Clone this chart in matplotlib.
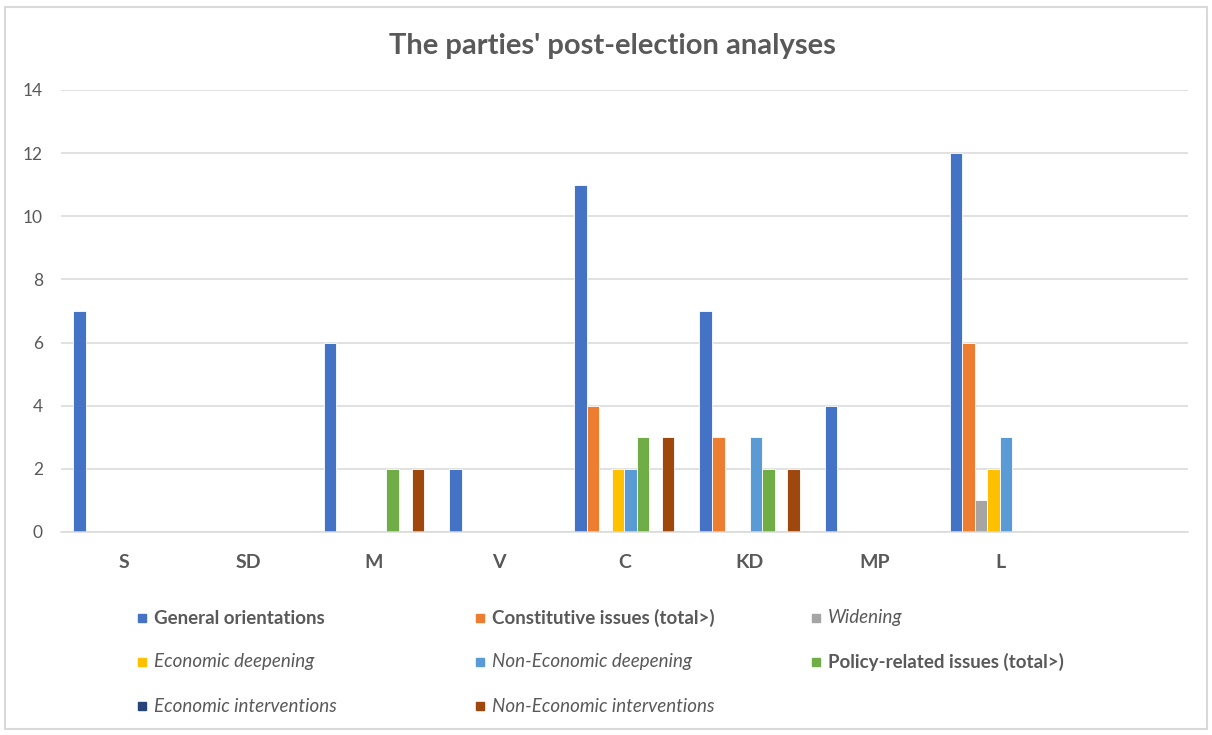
import numpy as np
import matplotlib.pyplot as plt
from matplotlib.patches import Rectangle

plt.rcParams['font.family'] = ['Lato', 'DejaVu Sans']

parties = ["S", "SD", "M", "V", "C", "KD", "MP", "L", ""]

series_names = [
    "General orientations",
    "Constitutive issues (total>)",
    "Widening",
    "Economic deepening",
    "Non-Economic deepening",
    "Policy-related issues (total>)",
    "Economic interventions",
    "Non-Economic interventions",
]

general_orientations = [7, 0, 6, 2, 11, 7, 4, 12, 0]
constitutive_issues = [0, 0, 0, 0, 4, 3, 0, 6, 0]
widening = [0, 0, 0, 0, 0, 0, 0, 1, 0]
economic_deepening = [0, 0, 0, 0, 2, 0, 0, 2, 0]
non_economic_deepening = [0, 0, 0, 0, 2, 3, 0, 3, 0]
policy_related = [0, 0, 2, 0, 3, 2, 0, 0, 0]
economic_interventions = [0, 0, 0, 0, 0, 0, 0, 0, 0]
non_economic_interventions = [0, 0, 2, 0, 3, 2, 0, 0, 0]

values = [general_orientations, constitutive_issues, widening, economic_deepening,
          non_economic_deepening, policy_related, economic_interventions,
          non_economic_interventions]

colors = ["#4472C4", "#ED7D31", "#A5A5A5", "#FFC000",
          "#5B9BD5", "#70AD47", "#264478", "#9E480E"]
# bold for the totals, italic for the sub-items
styles = ["bold", "bold", "italic", "italic", "italic", "bold", "italic", "italic"]

text_col = "#595959"
grid_col = "#D9D9D9"

fig = plt.figure(figsize=(12.12, 7.35), dpi=100)
ax = fig.add_axes([0.0503, 0.2762, 0.9297, 0.6014])

x = np.arange(len(parties))
w = 0.1
n = len(values)
for i, (vals, c) in enumerate(zip(values, colors)):
    vals = np.array(vals, dtype=float)
    h = np.where(vals > 0, vals, np.nan)
    ax.bar(x + (i - (n - 1) / 2) * w, h, width=w, color=c,
           edgecolor="white", linewidth=0.6, zorder=2)

ax.set_xlim(-0.5, len(parties) - 0.5)
ax.set_ylim(0, 14)
ax.set_yticks(np.arange(0, 15, 2))
ax.yaxis.grid(True, color=grid_col, linewidth=1.1, zorder=0)
ax.set_axisbelow(True)
for s in ["top", "right", "left"]:
    ax.spines[s].set_visible(False)
ax.spines["bottom"].set_color(grid_col)
ax.spines["bottom"].set_linewidth(1.1)

ax.set_xticks(x)
ax.set_xticklabels(parties, fontsize=14, fontweight="bold", color=text_col)
ax.tick_params(axis="x", length=0, pad=16)
ax.tick_params(axis="y", length=0, labelsize=12.5, labelcolor=text_col, pad=13)

fig.text(0.505, 0.938, "The parties' post-election analyses", ha="center", va="center",
         fontsize=21, fontweight="bold", color=text_col)

# legend laid out in rows of three
col_x = [138 / 1212, 476 / 1212, 812 / 1212]
row_y = [1 - 618 / 735, 1 - 662 / 735, 1 - 706 / 735]
sq_w, sq_h = 8 / 1212, 8 / 735
for i, (name, c, st) in enumerate(zip(series_names, colors, styles)):
    cx = col_x[i % 3]
    cy = row_y[i // 3]
    fig.patches.append(Rectangle((cx, cy - sq_h / 2), sq_w, sq_h, color=c,
                                 transform=fig.transFigure, figure=fig))
    fig.text(cx + 16 / 1212, cy, name, ha="left", va="center", fontsize=13.5,
             color=text_col,
             fontweight="bold" if st == "bold" else "normal",
             fontstyle="italic" if st == "italic" else "normal")

fig.patches.append(Rectangle((5 / 1212, 6 / 735), 1202 / 1212, 722 / 735,
                             fill=False, edgecolor=grid_col, linewidth=1.5,
                             transform=fig.transFigure, figure=fig))

fig.savefig("out.png", dpi=100)
